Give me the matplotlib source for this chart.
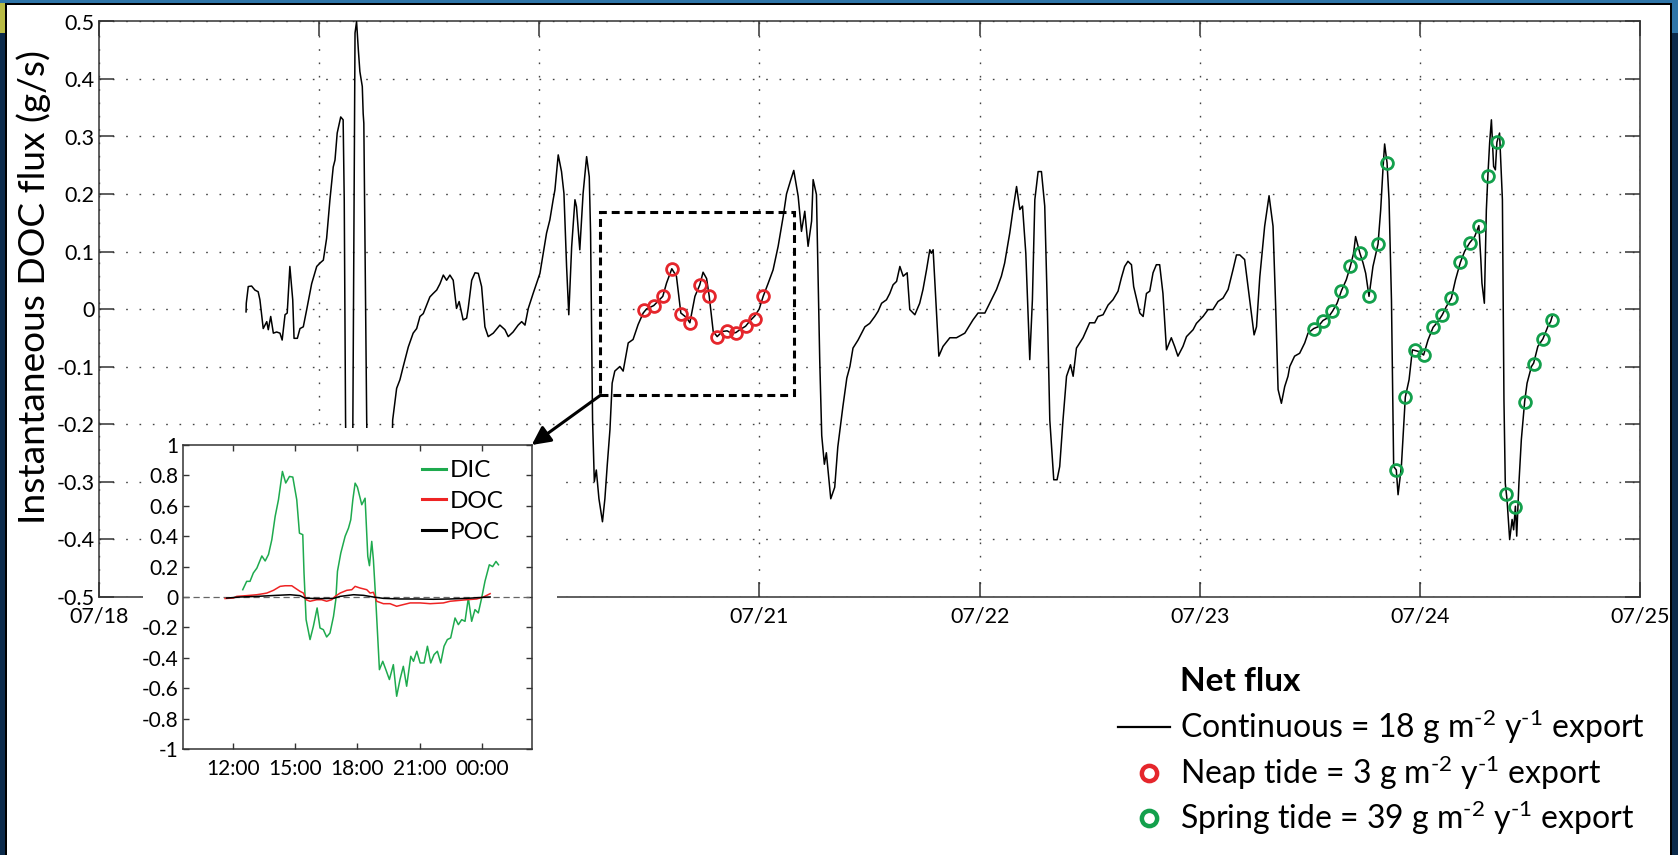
import numpy as np
import matplotlib
matplotlib.use("Agg")
import matplotlib.pyplot as plt
from matplotlib.patches import Rectangle
from matplotlib.lines import Line2D

plt.rcParams['font.family'] = ['Lato', 'DejaVu Sans']
plt.rcParams['mathtext.fontset'] = 'custom'
plt.rcParams['mathtext.rm'] = 'Lato'
plt.rcParams['mathtext.default'] = 'regular'

# continuous net DOC flux, time in days since 07/18 00:00, flux in g/s
flux_day = [0.668, 0.669, 0.678, 0.693, 0.708, 0.723, 0.731, 0.746, 0.762, 0.769, 0.780, 0.792,
            0.807, 0.822, 0.832, 0.845, 0.855, 0.867, 0.880, 0.886, 0.901, 0.913, 0.928, 0.943,
            0.966, 0.989, 1.004, 1.019, 1.034, 1.049, 1.064, 1.072, 1.082, 1.098, 1.109, 1.114,
            1.120, 1.131, 1.148, 1.163, 1.170, 1.178, 1.185, 1.196, 1.200, 1.203, 1.216, 1.231,
            1.312, 1.334, 1.352, 1.367, 1.382, 1.405, 1.427, 1.443, 1.458, 1.473, 1.503, 1.518,
            1.534, 1.549, 1.564, 1.579, 1.594, 1.609, 1.624, 1.636, 1.654, 1.670, 1.677, 1.693,
            1.708, 1.723, 1.738, 1.753, 1.768, 1.791, 1.821, 1.844, 1.859, 1.881, 1.904, 1.920,
            1.935, 1.950, 1.972, 2.003, 2.018, 2.033, 2.048, 2.063, 2.071, 2.086, 2.101, 2.112,
            2.124, 2.134, 2.147, 2.162, 2.169, 2.184, 2.199, 2.215, 2.227, 2.233, 2.242, 2.250,
            2.259, 2.271, 2.287, 2.298, 2.309, 2.321, 2.331, 2.343, 2.366, 2.381, 2.404, 2.426,
            2.449, 2.472, 2.487, 2.520, 2.561, 2.578, 2.602, 2.623, 2.643, 2.669, 2.684, 2.707,
            2.729, 2.744, 2.760, 2.772, 2.790, 2.808, 2.832, 2.853, 2.873, 2.893, 2.911, 2.937,
            2.956, 2.979, 2.999, 3.017, 3.040, 3.062, 3.085, 3.108, 3.123, 3.141, 3.156, 3.176,
            3.191, 3.206, 3.221, 3.237, 3.244, 3.259, 3.274, 3.283, 3.295, 3.304, 3.324, 3.342,
            3.356, 3.379, 3.397, 3.411, 3.425, 3.448, 3.464, 3.479, 3.501, 3.524, 3.539, 3.555,
            3.577, 3.592, 3.607, 3.623, 3.638, 3.653, 3.671, 3.683, 3.706, 3.728, 3.743, 3.759,
            3.774, 3.781, 3.789, 3.815, 3.834, 3.865, 3.895, 3.933, 3.970, 3.993, 4.024, 4.046,
            4.077, 4.099, 4.114, 4.137, 4.152, 4.168, 4.183, 4.195, 4.210, 4.228, 4.240, 4.251,
            4.266, 4.281, 4.296, 4.307, 4.319, 4.337, 4.352, 4.364, 4.379, 4.395, 4.413, 4.425,
            4.440, 4.470, 4.500, 4.523, 4.538, 4.561, 4.584, 4.606, 4.629, 4.644, 4.659, 4.674,
            4.690, 4.700, 4.728, 4.743, 4.758, 4.773, 4.788, 4.803, 4.818, 4.833, 4.849, 4.871,
            4.886, 4.901, 4.924, 4.940, 4.970, 4.985, 5.015, 5.038, 5.060, 5.083, 5.106, 5.129,
            5.151, 5.167, 5.182, 5.204, 5.227, 5.247, 5.258, 5.273, 5.295, 5.315, 5.333, 5.345,
            5.356, 5.371, 5.386, 5.401, 5.409, 5.431, 5.454, 5.477, 5.492, 5.518, 5.537, 5.560,
            5.583, 5.603, 5.624, 5.644, 5.666, 5.684, 5.699, 5.708, 5.727, 5.742, 5.754, 5.769,
            5.787, 5.810, 5.822, 5.833, 5.840, 5.851, 5.860, 5.871, 5.881, 5.893, 5.901, 5.916,
            5.934, 5.951, 5.966, 5.976, 5.996, 6.017, 6.037, 6.060, 6.082, 6.102, 6.120, 6.143,
            6.162, 6.184, 6.203, 6.226, 6.249, 6.268, 6.277, 6.282, 6.293, 6.302, 6.309, 6.317,
            6.325, 6.335, 6.343, 6.350, 6.362, 6.375, 6.382, 6.388, 6.396, 6.408, 6.419, 6.426,
            6.434, 6.440, 6.450, 6.461, 6.476, 6.487, 6.507, 6.517, 6.536, 6.559, 6.582, 6.594,
            6.601]
flux_val = [-0.005, 0.010, 0.039, 0.040, 0.033, 0.030, 0.016, -0.034, -0.022, -0.036, -0.013, -0.042,
            -0.040, -0.042, -0.054, -0.010, -0.007, 0.074, 0.016, -0.051, -0.051, -0.034, -0.031, -0.002,
            0.044, 0.074, 0.080, 0.085, 0.123, 0.190, 0.247, 0.259, 0.306, 0.334, 0.329, 0.190,
            -0.193, -0.550, -0.550, 0.480, 0.500, 0.451, 0.413, 0.387, 0.340, 0.323, -0.193, -0.600,
            -0.600, -0.193, -0.138, -0.123, -0.100, -0.066, -0.042, -0.034, -0.013, -0.008, 0.021, 0.027,
            0.033, 0.044, 0.059, 0.050, 0.059, 0.050, 0.001, 0.013, -0.019, -0.016, 0.001, 0.050,
            0.063, 0.062, 0.039, -0.031, -0.048, -0.042, -0.028, -0.036, -0.048, -0.040, -0.028, -0.022,
            -0.028, 0.001, 0.027, 0.062, 0.097, 0.132, 0.155, 0.190, 0.207, 0.268, 0.239, 0.201,
            0.074, -0.010, 0.108, 0.190, 0.178, 0.103, 0.201, 0.265, 0.230, 0.132, -0.193, -0.300,
            -0.280, -0.330, -0.370, -0.330, -0.270, -0.210, -0.129, -0.108, -0.100, -0.108, -0.059, -0.053,
            -0.027, -0.007, 0.000, 0.006, 0.022, 0.045, 0.070, 0.057, -0.007, -0.015, -0.024, 0.022,
            0.042, 0.064, 0.053, 0.022, -0.039, -0.048, -0.039, -0.038, -0.042, -0.041, -0.036, -0.030,
            -0.021, -0.012, 0.000, 0.022, 0.045, 0.068, 0.109, 0.161, 0.200, 0.223, 0.241, 0.196,
            0.135, 0.170, 0.109, 0.153, 0.225, 0.199, -0.090, -0.220, -0.270, -0.250, -0.330, -0.310,
            -0.240, -0.170, -0.120, -0.100, -0.068, -0.054, -0.042, -0.031, -0.025, -0.013, -0.004, 0.010,
            0.016, 0.027, 0.042, 0.048, 0.074, 0.057, 0.063, -0.001, -0.010, 0.010, 0.034, 0.068,
            0.103, 0.097, 0.103, -0.082, -0.065, -0.050, -0.050, -0.042, -0.019, -0.007, -0.007, 0.010,
            0.034, 0.057, 0.080, 0.132, 0.173, 0.213, 0.173, 0.179, 0.097, -0.088, 0.016, 0.190,
            0.239, 0.239, 0.179, 0.016, -0.193, -0.297, -0.297, -0.274, -0.193, -0.117, -0.097, -0.117,
            -0.068, -0.050, -0.024, -0.024, -0.013, -0.010, 0.007, 0.016, 0.031, 0.054, 0.074, 0.083,
            0.077, 0.039, -0.007, -0.013, 0.027, 0.031, 0.063, 0.077, 0.077, 0.027, -0.071, -0.050,
            -0.065, -0.082, -0.065, -0.048, -0.036, -0.025, -0.013, -0.001, -0.001, 0.013, 0.019, 0.034,
            0.068, 0.094, 0.094, 0.086, 0.016, -0.045, -0.031, 0.056, 0.144, 0.197, 0.144, 0.005,
            -0.140, -0.164, -0.135, -0.117, -0.100, -0.082, -0.077, -0.059, -0.042, -0.034, -0.031, -0.020,
            -0.015, -0.004, 0.010, 0.032, 0.051, 0.074, 0.097, 0.126, 0.098, 0.080, 0.062, 0.022,
            0.074, 0.113, 0.172, 0.247, 0.287, 0.254, 0.190, 0.016, -0.274, -0.280, -0.323, -0.274,
            -0.153, -0.123, -0.071, -0.072, -0.074, -0.080, -0.054, -0.032, -0.022, -0.010, 0.004, 0.019,
            0.051, 0.081, 0.100, 0.115, 0.126, 0.145, 0.086, 0.045, 0.010, 0.172, 0.232, 0.289,
            0.329, 0.248, 0.242, 0.290, 0.306, 0.190, -0.158, -0.303, -0.332, -0.401, -0.366, -0.384,
            -0.343, -0.395, -0.303, -0.227, -0.161, -0.129, -0.100, -0.094, -0.065, -0.052, -0.030, -0.022,
            -0.013]

# hourly samples (neap / spring tide)
neap_day = [2.476, 2.520, 2.561, 2.602, 2.643, 2.684, 2.729, 2.772, 2.808, 2.853, 2.893, 2.937, 2.979, 3.017]
neap_val = [-0.002, 0.006, 0.022, 0.070, -0.008, -0.024, 0.042, 0.022, -0.048, -0.038, -0.041, -0.030, -0.017, 0.022]
spring_day = [5.518, 5.560, 5.603, 5.644, 5.684, 5.727, 5.769, 5.810, 5.851, 5.893, 5.934, 5.976, 6.017, 6.060,
              6.102, 6.143, 6.184, 6.226, 6.268, 6.309, 6.350, 6.393, 6.434, 6.476, 6.517, 6.559, 6.601]
spring_val = [-0.034, -0.020, -0.004, 0.032, 0.074, 0.098, 0.022, 0.113, 0.254, -0.280, -0.153, -0.072, -0.080,
              -0.032, -0.010, 0.019, 0.081, 0.115, 0.145, 0.232, 0.290, -0.321, -0.345, -0.162, -0.095,
              -0.052, -0.019]

day_ticks = [0, 1, 2, 3, 4, 5, 6, 7]
day_labels = ['07/18', '07/19', '07/20', '07/21', '07/22', '07/23', '07/24', '07/25']
flux_ticks = [0.5, 0.4, 0.3, 0.2, 0.1, 0, -0.1, -0.2, -0.3, -0.4, -0.5]
flux_labels = ['0.5', '0.4', '0.3', '0.2', '0.1', '0', '-0.1', '-0.2', '-0.3', '-0.4', '-0.5']

# inset: hours from 07/20 00:00
dic_hr = [12.48, 12.67, 12.83, 12.99, 13.16, 13.40, 13.56, 13.72, 13.88, 14.04, 14.20, 14.39, 14.55, 14.73,
          14.89, 15.08, 15.21, 15.37, 15.43, 15.53, 15.72, 15.88, 16.06, 16.20, 16.36, 16.52, 16.68, 16.85,
          16.96, 17.04, 17.20, 17.41, 17.57, 17.68, 17.78, 17.89, 18.00, 18.21, 18.37, 18.50, 18.58, 18.69,
          18.77, 18.90, 19.06, 19.22, 19.38, 19.54, 19.73, 19.89, 20.05, 20.21, 20.37, 20.57, 20.70, 20.86,
          21.02, 21.21, 21.37, 21.53, 21.69, 21.85, 22.01, 22.17, 22.33, 22.49, 22.70, 22.86, 23.02, 23.18,
          23.34, 23.50, 23.66, 23.82, 23.98, 24.14, 24.35, 24.51, 24.67, 24.79]
dic_val = [0.048, 0.103, 0.103, 0.158, 0.190, 0.270, 0.237, 0.280, 0.377, 0.530, 0.640, 0.826, 0.750, 0.793,
           0.789, 0.640, 0.420, 0.410, 0.158, -0.149, -0.280, -0.193, -0.072, -0.204, -0.215, -0.263, -0.237,
           -0.127, -0.018, 0.169, 0.289, 0.400, 0.453, 0.508, 0.640, 0.749, 0.723, 0.607, 0.650, 0.267, 0.206,
           0.366, 0.245, -0.061, -0.478, -0.423, -0.482, -0.543, -0.445, -0.653, -0.543, -0.456, -0.587,
           -0.390, -0.423, -0.357, -0.434, -0.434, -0.324, -0.434, -0.379, -0.357, -0.434, -0.324, -0.280,
           -0.269, -0.138, -0.182, -0.149, -0.160, -0.007, -0.160, -0.083, -0.105, -0.007, 0.103, 0.212,
           0.200, 0.234, 0.212]
doc_hr = [11.63, 12.03, 12.19, 12.67, 13.16, 13.48, 13.64, 13.96, 14.28, 14.52, 14.84, 15.00, 15.24, 15.40,
          15.53, 15.72, 16.04, 16.28, 16.52, 16.76, 16.93, 17.17, 17.49, 17.73, 17.89, 18.13, 18.45, 18.61,
          18.77, 18.93, 19.25, 19.57, 19.89, 20.21, 20.54, 21.02, 21.50, 22.14, 22.46, 22.94, 23.26, 23.74,
          24.07, 24.39]
doc_val = [-0.010, -0.007, 0.004, 0.009, 0.015, 0.022, 0.026, 0.044, 0.070, 0.074, 0.074, 0.059, 0.037, 0.026,
           -0.018, -0.028, -0.018, -0.018, -0.028, -0.018, 0.004, 0.026, 0.044, 0.048, 0.070, 0.059, 0.048,
           0.026, 0.031, -0.028, -0.044, -0.044, -0.061, -0.050, -0.039, -0.039, -0.044, -0.039, -0.028,
           -0.022, -0.018, -0.013, 0.000, 0.022]
poc_hr = [11.71, 12.35, 13.16, 14.12, 14.76, 15.24, 15.48, 16.04, 16.85, 17.17, 17.81, 18.29, 18.77, 19.25,
          20.05, 20.86, 21.66, 22.46, 23.26, 24.07, 24.39]
poc_val = [-0.007, 0.000, 0.004, 0.011, 0.015, 0.009, -0.007, -0.011, -0.009, 0.004, 0.015, 0.011, 0.000,
           -0.009, -0.013, -0.013, -0.015, -0.013, -0.009, -0.002, 0.000]
hour_ticks = [12, 15, 18, 21, 24]
hour_labels = ['12:00', '15:00', '18:00', '21:00', '00:00']
inset_ticks = [1, 0.8, 0.6, 0.4, 0.2, 0, -0.2, -0.4, -0.6, -0.8, -1]
inset_labels = ['1', '0.8', '0.6', '0.4', '0.2', '0', '-0.2', '-0.4', '-0.6', '-0.8', '-1']

W, H = 1678, 855
fig = plt.figure(figsize=(W / 100, H / 100), dpi=100)

# slide frame
navy = '#0b2a4b'
def frame(x, y, w, h, c, z=10):
    fig.add_artist(Rectangle((x / W, 1 - (y + h) / H), w / W, h / H, transform=fig.transFigure,
                             facecolor=c, edgecolor='none', zorder=z))
frame(0, 0, W, 3.5, '#2f75a8')
frame(1672, 0, 6, 33, '#2f75a8')
frame(0, 33, 5, H - 33, navy)
frame(0, 3, 5, 30, '#b8bb45')
frame(1672, 33, 6, H - 33, navy)
frame(5, 3.5, 1667, 2, 'black')
frame(5, 3.5, 2, H, 'black')
frame(1670, 3.5, 2, H, 'black')

ax = fig.add_axes([99 / W, 1 - 596.5 / H, 1541 / W, 575 / H])
ax.plot(flux_day, flux_val, color='black', lw=1.1, zorder=3)
ax.plot(neap_day, neap_val, 'o', mfc='none', mec='#e5262c', ms=8.5, mew=2.0, zorder=4)
ax.plot(spring_day, spring_val, 'o', mfc='none', mec='#13a04c', ms=8.5, mew=2.0, zorder=4)
ax.add_patch(Rectangle((2.278, -0.150), 0.879, 0.319, fill=False, ls=(0, (2.6, 1.6)), lw=2.2,
                       edgecolor='black', zorder=5))
ax.set_xlim(0, 7)
ax.set_ylim(-0.5, 0.5)
ax.set_xticks(day_ticks)
ax.set_xticklabels(day_labels)
ax.set_yticks(flux_ticks)
ax.set_yticklabels(flux_labels)
ax.tick_params(direction='in', length=11, width=1.1, color='#333333', labelsize=15.5,
               top=True, right=True)
ax.tick_params(axis='x', pad=7)
ax.tick_params(axis='y', pad=3)
ax.grid(True, color='#444444', lw=1.0, ls=(0, (1.2, 8.4)))
for s in ax.spines.values():
    s.set_color('#333333')
    s.set_linewidth(1.1)

fig.text(34 / W, 1 - 287 / H, 'Instantaneous DOC flux (g/s)', rotation=90, fontsize=26.7,
         ha='center', va='center')

# white cover behind inset (hides the main axis there and the 07/19, 07/20 labels)
frame(143, 428, 414, 172, 'white', z=1)
frame(143, 598, 435, 202, 'white', z=1)

axi = fig.add_axes([182.7 / W, 1 - 749 / H, 349 / W, 304 / H])
axi.set_zorder(2)
axi.axhline(0, color='#666666', lw=0.9, ls=(0, (5, 3)))
axi.plot(dic_hr, dic_val, color='#1eaa4e', lw=1.1, label='DIC')
axi.plot(doc_hr, doc_val, color='#ee2424', lw=1.1, label='DOC')
axi.plot(poc_hr, poc_val, color='black', lw=1.1, label='POC')
axi.set_xlim(9.59, 26.39)
axi.set_ylim(-1, 1)
axi.set_xticks(hour_ticks)
axi.set_xticklabels(hour_labels)
axi.set_yticks(inset_ticks)
axi.set_yticklabels(inset_labels)
axi.tick_params(direction='in', length=4, width=1.0, color='#333333', labelsize=15,
                top=True, right=True)
axi.tick_params(axis='x', pad=7)
axi.tick_params(axis='y', pad=3)
for s in axi.spines.values():
    s.set_color('#333333')
    s.set_linewidth(1.1)
leg = axi.legend(loc='upper right', bbox_to_anchor=(0.955, 0.99), frameon=False, fontsize=17.5,
                 handlelength=1.0, handletextpad=0.15, labelspacing=0.4, borderpad=0)
for l in leg.get_lines():
    l.set_linewidth(2.2)
axi.annotate('', xy=(1, 1), xycoords='axes fraction', xytext=(2.278, -0.150), textcoords=ax.transData,
             arrowprops=dict(arrowstyle='-|>', lw=2.2, color='black', mutation_scale=28,
                             shrinkA=0, shrinkB=0), annotation_clip=False)

# net flux key
fig.text(1180 / W, 1 - 681 / H, 'Net flux', fontsize=24, fontweight='bold', va='center')
fig.add_artist(Line2D([1118 / W, 1170 / W], [1 - 727 / H, 1 - 727 / H], color='black', lw=1.6,
                      transform=fig.transFigure))
fig.add_artist(Line2D([1149 / W], [1 - 773 / H], marker='o', mfc='none', mec='#e5262c', ms=11, mew=3.2,
                      transform=fig.transFigure))
fig.add_artist(Line2D([1149 / W], [1 - 818 / H], marker='o', mfc='none', mec='#13a04c', ms=11, mew=3.2,
                      transform=fig.transFigure))
sup2 = r'$^{\text{-2}}$'
sup1 = r'$^{\text{-1}}$'
fig.text(1180 / W, 1 - 727 / H, 'Continuous = 18 g m' + sup2 + ' y' + sup1 + ' export', fontsize=23, va='center')
fig.text(1180 / W, 1 - 773 / H, 'Neap tide = 3 g m' + sup2 + ' y' + sup1 + ' export', fontsize=23, va='center')
fig.text(1180 / W, 1 - 818 / H, 'Spring tide = 39 g m' + sup2 + ' y' + sup1 + ' export', fontsize=23, va='center')

fig.savefig('out.png', dpi=100)
